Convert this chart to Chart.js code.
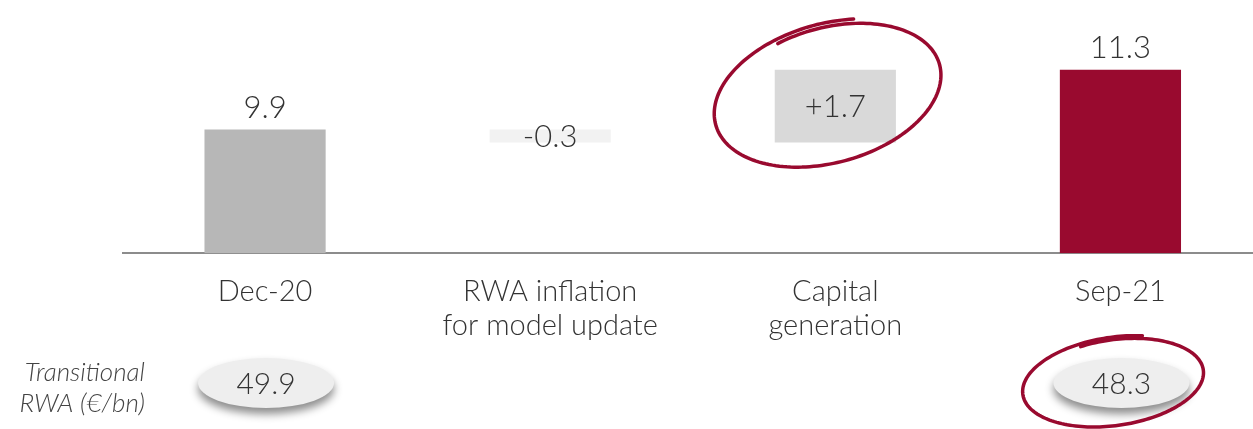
<!DOCTYPE html>
<html>
<head>
<meta charset="utf-8">
<script src="https://cdn.jsdelivr.net/npm/chart.js@4"></script>
<style>
  html, body { margin: 0; padding: 0; background: #fff; overflow: hidden; }
  #wrap { width: 1263px; height: 429px; }
</style>
</head>
<body>
<div id="wrap"><canvas id="myChart" width="1263" height="429"></canvas></div>
<script>
// 数据
const categories = [['Dec-20'], ['RWA inflation', 'for model update'], ['Capital', 'generation'], ['Sep-21']];
const startValue = 9.9;
const steps = [-0.3, 1.7];
const endValue = 11.3;
const valueLabels = ['9.9', '-0.3', '+1.7', '11.3'];
const rwaValues = [49.9, null, null, 48.3];
const barColors = ['#b7b7b7', '#f2f2f2', '#d9d9d9', '#990a2f'];
const yMin = 7;

// waterfall: floating bars
const bars = [];
bars.push([yMin, startValue]);
let running = startValue;
steps.forEach(s => {
  bars.push([running, running + s]);
  running += s;
});
bars.push([yMin, endValue]);

const FONT = 'Lato, "Open Sans", sans-serif';
const RED = '#990a2f';

// 手绘风格的椭圆
function scribble(ctx, cx, cy, rx, ry, rot) {
  ctx.save();
  ctx.translate(cx, cy);
  ctx.rotate(rot);
  ctx.strokeStyle = RED;
  ctx.lineCap = 'round';
  ctx.lineWidth = 3.5;
  ctx.beginPath();
  const a0 = -1.9, total = Math.PI * 2 + 0.7;
  for (let i = 0; i <= 200; i++) {
    const t = a0 + total * i / 200;
    const k = 1 + 0.07 * (i / 200);
    const x = Math.cos(t) * rx * k;
    const y = Math.sin(t) * ry * k;
    if (i === 0) ctx.moveTo(x, y); else ctx.lineTo(x, y);
  }
  ctx.stroke();
  ctx.restore();
}

const annotations = {
  id: 'annotations',
  afterDatasetsDraw(chart) {
    const ctx = chart.ctx;
    const meta = chart.getDatasetMeta(0);
    const x = chart.scales.x;

    // value labels
    ctx.save();
    ctx.fillStyle = '#333';
    ctx.font = '300 31px ' + FONT;
    ctx.textAlign = 'center';
    meta.data.forEach((bar, i) => {
      const isStep = i > 0 && i < valueLabels.length - 1;
      if (isStep) {
        ctx.textBaseline = 'middle';
        ctx.fillText(valueLabels[i], bar.x, (bar.y + bar.base) / 2 + 1);
      } else {
        ctx.textBaseline = 'bottom';
        ctx.fillText(valueLabels[i], bar.x, bar.y - 6);
      }
    });
    ctx.restore();

    // RWA row
    ctx.save();
    ctx.fillStyle = '#444';
    ctx.font = 'italic 300 26px ' + FONT;
    ctx.textAlign = 'right';
    ctx.textBaseline = 'middle';
    ctx.fillText('Transitional', 145, 373);
    ctx.fillText('RWA (€/bn)', 145, 404);
    ctx.restore();

    rwaValues.forEach((v, i) => {
      if (v == null) return;
      const cx = x.getPixelForValue(i) + 1, cy = 383;
      ctx.save();
      ctx.shadowColor = 'rgba(0,0,0,0.45)';
      ctx.shadowBlur = 8;
      ctx.shadowOffsetY = 6;
      ctx.fillStyle = '#eeeeee';
      ctx.beginPath();
      ctx.ellipse(cx, cy, 68, 25, 0, 0, Math.PI * 2);
      ctx.fill();
      ctx.restore();
      ctx.save();
      ctx.fillStyle = '#333';
      ctx.font = '300 30px ' + FONT;
      ctx.textAlign = 'center';
      ctx.textBaseline = 'middle';
      ctx.fillText(v.toFixed(1), cx, cy + 1);
      ctx.restore();
    });

    // red circles
    const g = meta.data[2];
    scribble(ctx, g.x - 6, (g.y + g.base) / 2 - 12, 112, 66, -0.27);
    scribble(ctx, x.getPixelForValue(3) - 6, 382, 88, 42, -0.14);
  }
};

new Chart(document.getElementById('myChart').getContext('2d'), {
  type: 'bar',
  data: {
    labels: categories,
    datasets: [{
      data: bars,
      backgroundColor: barColors,
      borderWidth: 0,
      borderSkipped: false,
      barPercentage: 0.425,
      categoryPercentage: 1
    }]
  },
  options: {
    responsive: false,
    animation: false,
    layout: { padding: { left: 122.5, right: 0, top: 40, bottom: 65 } },
    plugins: { legend: { display: false }, tooltip: { enabled: false } },
    scales: {
      y: {
        display: false,
        min: yMin,
        max: 12
      },
      x: {
        grid: { display: false, drawTicks: false },
        border: { display: true, color: '#8c8c8c', width: 2 },
        ticks: {
          padding: 22,
          color: '#333',
          maxRotation: 0,
          font: { family: FONT, size: 29, weight: '300', lineHeight: 1.15 }
        }
      }
    }
  },
  plugins: [annotations]
});
</script>
</body>
</html>
